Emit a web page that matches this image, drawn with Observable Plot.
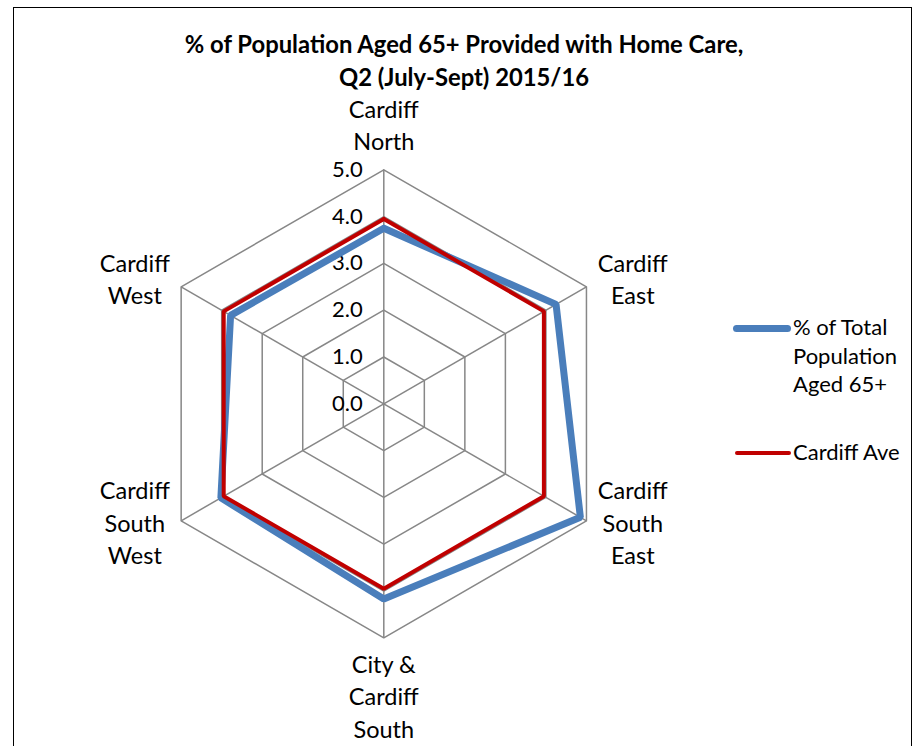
<!DOCTYPE html>
<html>
<head>
<meta charset="utf-8">
<script src="https://cdn.jsdelivr.net/npm/d3@7"></script>
<script src="https://cdn.jsdelivr.net/npm/@observablehq/plot@0.6"></script>
<style>
  html, body { margin: 0; padding: 0; background: #fff; }
  #wrap { position: relative; width: 917px; height: 746px; overflow: hidden; font-family: Lato, "Open Sans", sans-serif; }
  #border { position: absolute; left: 13px; top: 7px; width: 899px; height: 800px; border: 1.5px solid #000; box-sizing: border-box; }
  #title { position: absolute; left: 0; width: 928px; top: 28px; text-align: center; font-weight: bold; font-size: 23.8px; line-height: 33px; color: #000; }
  #chart { position: absolute; left: 0; top: 0; }
  .leg { position: absolute; font-size: 22px; line-height: 28.5px; color: #000; }
  .sw { position: absolute; border-radius: 4px; }
</style>
</head>
<body>
<div id="wrap">
  <div id="border"></div>
  <div id="chart"></div>
  <div id="title">% of Population Aged 65+ Provided with Home Care,<br>Q2 (July-Sept) 2015/16</div>
  <div class="sw" style="left:733px; top:324.5px; width:58px; height:7px; background:#4a7ebb;"></div>
  <div class="leg" style="left:793px; top:313px;">% of Total<br>Population<br>Aged 65+</div>
  <div class="sw" style="left:735px; top:451px; width:56px; height:4px; background:#c00000; border-radius:2px;"></div>
  <div class="leg" style="left:793px; top:438px;">Cardiff Ave</div>
</div>
<script>
const categories = ["Cardiff North", "Cardiff East", "Cardiff South East", "City & Cardiff South", "Cardiff South West", "Cardiff West"];
const categoryLabels = ["Cardiff\nNorth", "Cardiff\nEast", "Cardiff\nSouth\nEast", "City &\nCardiff\nSouth", "Cardiff\nSouth\nWest", "Cardiff\nWest"];
const pctAged65 = [3.75, 4.25, 4.85, 4.17, 4.02, 3.78];
const cardiffAve = [3.95, 3.95, 3.95, 3.95, 3.95, 3.95];
const tickValues = [0, 1, 2, 3, 4, 5];
const tickLabels = ["0.0", "1.0", "2.0", "3.0", "4.0", "5.0"];

const n = categories.length;
const maxR = 5;
const ang = i => Math.PI / 2 - i * 2 * Math.PI / n;
const pt = (r, i) => ({x: r * Math.cos(ang(i)), y: r * Math.sin(ang(i))});
const ring = vals => [...vals, vals[0]].map((v, k) => ({...pt(v, k % n), k}));

const gridRings = tickValues.filter(t => t > 0).flatMap(t => ring(Array(n).fill(t)).map(p => ({...p, t})));
const spokes = categories.map((c, i) => ({x1: 0, y1: 0, x2: pt(maxR, i).x, y2: pt(maxR, i).y}));

const blueLine = ring(pctAged65);
const redLine = ring(cardiffAve);

// label anchors derived from axis directions
const labels = categories.map((c, i) => {
  const p = pt(maxR, i);
  const cx = Math.cos(ang(i)), sy = Math.sin(ang(i));
  let anchor;
  if (Math.abs(cx) < 1e-6) {
    anchor = {x: 0, y: p.y + Math.sign(sy) * (sy > 0 ? 0.42 : 0.25), lineAnchor: sy > 0 ? "bottom" : "top", lh: sy > 0 ? 1.36 : 1.39};
  } else {
    anchor = {x: Math.sign(cx) * 5.32, y: p.y + (sy > 0 ? 0.19 : -0.01), lineAnchor: "middle", lh: 1.37};
  }
  return {...anchor, text: categoryLabels[i]};
});

const W = 917, H = 746;
const cxPx = 383.3, cyPx = 403.3, unit = 46.8;
const xDomain = [-cxPx / unit, (W - cxPx) / unit];
const yDomain = [(cyPx - H) / unit, cyPx / unit];

const labelMark = anchor => {
  const sub = labels.filter(d => d.lineAnchor === anchor);
  return Plot.text(sub, {x: "x", y: "y", text: "text", lineAnchor: anchor, lineHeight: sub[0].lh, fontSize: 23.5, fill: "#000"});
};

const chart = Plot.plot({
  width: W, height: H,
  margin: 0,
  x: {domain: xDomain, axis: null},
  y: {domain: yDomain, axis: null},
  style: {fontFamily: "Lato, 'Open Sans', sans-serif", background: "transparent"},
  marks: [
    Plot.line(gridRings, {x: "x", y: "y", z: "t", stroke: "#878787", strokeWidth: 1.5}),
    Plot.link(spokes, {x1: "x1", y1: "y1", x2: "x2", y2: "y2", stroke: "#878787", strokeWidth: 1.5}),
    Plot.text(tickValues, {x: 0, y: d => d, text: (d, i) => tickLabels[i], textAnchor: "end", dx: -21, fontSize: 22, fill: "#000"}),
    Plot.line(blueLine, {x: "x", y: "y", stroke: "#4a7ebb", strokeWidth: 7, strokeLinejoin: "miter", curve: "linear"}),
    Plot.line(redLine, {x: "x", y: "y", stroke: "#c00000", strokeWidth: 4, strokeLinejoin: "miter", curve: "linear"}),
    labelMark("bottom"),
    labelMark("top"),
    labelMark("middle")
  ]
});
document.getElementById("chart").appendChild(chart);
</script>
</body>
</html>
